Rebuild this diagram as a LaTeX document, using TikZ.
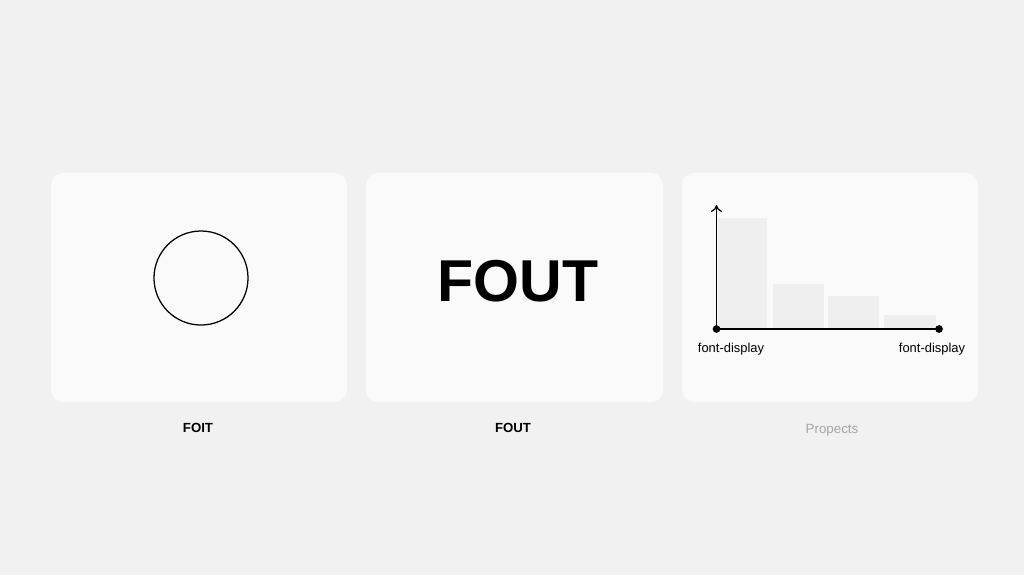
\documentclass[tikz,border=0pt]{standalone}
\usepackage{fontspec}
\setmainfont{Liberation Sans}
\usetikzlibrary{arrows.meta}
\definecolor{pagebg}{HTML}{F1F1F1}
\definecolor{cardbg}{HTML}{FAFAFA}
\definecolor{barfill}{HTML}{EFEFEF}
\definecolor{faint}{HTML}{A6A6A6}
\begin{document}
\begin{tikzpicture}[x=0.025cm,y=-0.025cm,
    card/.style={fill=cardbg, rounded corners=8.5pt},
    caption/.style={font=\fontsize{9.4}{11}\selectfont\bfseries},
    dot/.style={circle, fill=black, inner sep=0pt, minimum size=5.5pt},
    axislabel/.style={font=\fontsize{9.2}{11}\selectfont, anchor=base}]
  % page and the three cards
  \fill[pagebg] (0,0) rectangle (1024,575);
  \fill[card] (51,173) rectangle (347,402);
  \fill[card] (366,173) rectangle (663,402);
  \fill[card] (682,173) rectangle (978,402);
  % FOIT: empty circle
  \node[circle, draw, line width=0.9pt, minimum size=2.35cm, inner sep=0pt] (ring) at (201,278) {};
  \node[caption] (foit) at (198,428) {FOIT};
  % FOUT: fallback text
  \node[font=\fontsize{42}{46}\selectfont\bfseries] (big) at (518,281) {FOUT};
  \node[caption] (fout) at (513,428) {FOUT};
  % chart
  \fill[barfill] (718,218) rectangle (767,328);
  \fill[barfill] (773,284) rectangle (824,328);
  \fill[barfill] (828,296) rectangle (879,328);
  \fill[barfill] (884,315) rectangle (936,328);
  \node[dot] (origin) at (716.5,329) {};
  \node[dot] (xend) at (939,329) {};
  \coordinate (ytop) at (716.5,205);
  \begin{scope}[line width=0.9pt]
    \draw[-{To[length=5pt,width=8pt]}] (origin.center) -- (ytop);
    \draw (origin.center) -- (xend.center);
  \end{scope}
  \node[axislabel] (lo) at (731,352) {font-display};
  \node[axislabel] (hi) at (932,352) {font-display};
  \node[font=\fontsize{9.5}{11}\selectfont, text=faint, anchor=base] (props) at (832,433) {Propects};
\end{tikzpicture}
\end{document}
